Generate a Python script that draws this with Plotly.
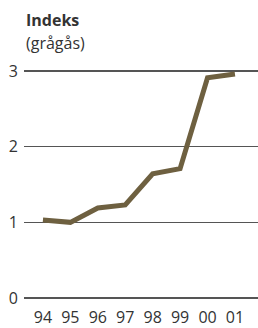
import plotly.graph_objects as go

years = ["94", "95", "96", "97", "98", "99", "00", "01"]
index_values = [1.03, 1.00, 1.19, 1.23, 1.64, 1.71, 2.91, 2.96]
y_ticks = [0, 1, 2, 3]

fig = go.Figure()
fig.add_trace(go.Scatter(
    x=list(range(len(years))), y=index_values, mode="lines",
    line=dict(color="#6e6040", width=5), hoverinfo="skip"))

fig.update_layout(
    width=258, height=328,
    margin=dict(l=24, r=0, t=60, b=28, autoexpand=False),
    paper_bgcolor="white", plot_bgcolor="white",
    showlegend=False,
    font=dict(family="Open Sans", size=16, color="#333333"),
    xaxis=dict(range=[-0.69, 7.84], tickmode="array",
               tickvals=list(range(len(years))), ticktext=years,
               showgrid=False, zeroline=False, showline=False, ticks="",
               automargin=False, ticklabelstandoff=6,
               tickfont=dict(size=16, color="#333333")),
    yaxis=dict(range=[-0.026, 3.145], tickmode="array", tickvals=y_ticks,
               showgrid=True, gridcolor="#555555", gridwidth=1.5,
               zeroline=False, showline=False, ticks="",
               automargin=False, ticklabelstandoff=5,
               tickfont=dict(size=16, color="#333333")),
)
fig.add_annotation(text="<b>Indeks</b>", xref="paper", yref="paper",
                   x=0, y=1 + 53 / 240, xanchor="left", yanchor="top",
                   showarrow=False, font=dict(size=16, color="#333333"))
fig.add_annotation(text="(grågås)", xref="paper", yref="paper",
                   x=0, y=1 + 30 / 240, xanchor="left", yanchor="top",
                   showarrow=False, font=dict(size=16, color="#333333"))

fig.write_html("out.html", config={"displayModeBar": False, "staticPlot": True},
               post_script="document.body.style.margin='0';document.body.style.padding='0';")
